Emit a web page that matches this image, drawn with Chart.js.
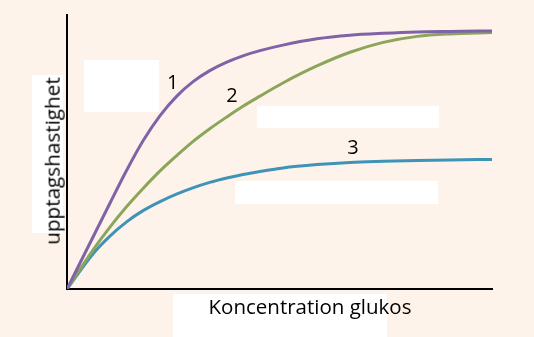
<!DOCTYPE html>
<html>
<head>
<meta charset="utf-8">
<script src="https://cdn.jsdelivr.net/npm/chart.js@4.4.0/dist/chart.umd.min.js"></script>
<style>
  html, body { margin: 0; padding: 0; background: #FDF3EA; }
  #wrap { position: relative; width: 534px; height: 337px; overflow: hidden; }
  canvas { position: absolute; left: 0; top: 0; }
  .lbl { position: absolute; font-family: "Open Sans", Lato, sans-serif; color: #000; white-space: nowrap; line-height: 1; }
</style>
</head>
<body>
<div id="wrap">
  <canvas id="c" width="534" height="337"></canvas>
  <div class="lbl" id="ytitle" style="font-size:20.7px; left:52px; top:161px; transform: translate(-50%,-50%) rotate(-90deg);">upptagshastighet</div>
  <div class="lbl" id="xtitle" style="font-size:20.5px; left:310px; top:306px; transform: translate(-50%,-50%);">Koncentration glukos</div>
</div>
<script>
// Concentration (x, arbitrary units 0–100)
const concentration = [0, 6.1, 10.1, 14.1, 17.9, 21.9, 25.9, 29.6, 33.6, 37.6, 41.4, 45.4, 50.8, 58.8, 66.6, 74.4, 82.4, 90.1, 100];
// Uptake rate (y, arbitrary units 0–100)
const curve1 = [0, 18.9, 31.3, 43.5, 54.1, 63.3, 70.5, 75.6, 79.7, 82.8, 85.1, 87.0, 89.0, 91.3, 92.6, 93.3, 93.8, 94.0, 94.2];
const curve2 = [0, 14.2, 22.6, 30.2, 36.7, 43.1, 48.8, 53.8, 58.5, 62.8, 66.7, 70.4, 75.2, 81.4, 86.4, 90.0, 92.2, 93.1, 93.6];
const curve3 = [0, 12.8, 19.3, 24.6, 28.6, 31.9, 34.7, 36.9, 38.9, 40.5, 41.8, 42.9, 44.2, 45.4, 46.2, 46.6, 46.9, 47.1, 47.3];
const curveNames = ["1", "2", "3"];
// Label anchor points in data units
const labelX = [24.9, 38.8, 67.3];
const labelY = [75.5, 70.8, 51.8];

const colors = ["#7F63A6", "#8BA65A", "#3F93B7"];
const series = [curve1, curve2, curve3];

// White cover boxes in canvas pixels [x, y, w, h]
const boxes = [
  [84, 60, 75, 52],
  [257, 106, 182, 22],
  [235, 181, 203, 23],
  [32, 75, 31, 158],
  [173, 294, 214, 43]
];

const boxPlugin = {
  id: 'boxes',
  beforeDatasetsDraw(chart) {
    const ctx = chart.ctx;
    ctx.save();
    ctx.fillStyle = '#FFFFFF';
    boxes.forEach(b => ctx.fillRect(b[0], b[1], b[2], b[3]));
    ctx.restore();
  },
  afterDraw(chart) {
    const xs = chart.scales.x, ys = chart.scales.y;
    curveNames.forEach((n, i) => {
      let el = document.getElementById('cl' + i);
      if (!el) {
        el = document.createElement('div');
        el.id = 'cl' + i;
        el.className = 'lbl';
        el.style.fontSize = '20px';
        el.style.transform = 'translate(-50%,-50%)';
        el.textContent = n;
        document.getElementById('wrap').appendChild(el);
      }
      el.style.left = xs.getPixelForValue(labelX[i]) + 'px';
      el.style.top = ys.getPixelForValue(labelY[i]) + 'px';
    });
  }
};

new Chart(document.getElementById('c'), {
  type: 'scatter',
  data: {
    datasets: series.map((s, i) => ({
      label: curveNames[i],
      data: concentration.map((x, j) => ({ x: x, y: s[j] })),
      showLine: true,
      borderColor: colors[i],
      borderWidth: 3,
      pointRadius: 0,
      fill: false,
      cubicInterpolationMode: 'monotone'
    }))
  },
  options: {
    responsive: false,
    animation: false,
    layout: { padding: { left: 67, right: 42, top: 15, bottom: 48 } },
    plugins: { legend: { display: false }, tooltip: { enabled: false } },
    scales: {
      x: {
        type: 'linear', min: 0, max: 100,
        grid: { display: false, drawTicks: false },
        ticks: { display: false },
        border: { display: true, color: '#000', width: 2 }
      },
      y: {
        type: 'linear', min: 0, max: 100,
        grid: { display: false, drawTicks: false },
        ticks: { display: false },
        border: { display: true, color: '#000', width: 2 }
      }
    }
  },
  plugins: [boxPlugin]
});
</script>
</body>
</html>
